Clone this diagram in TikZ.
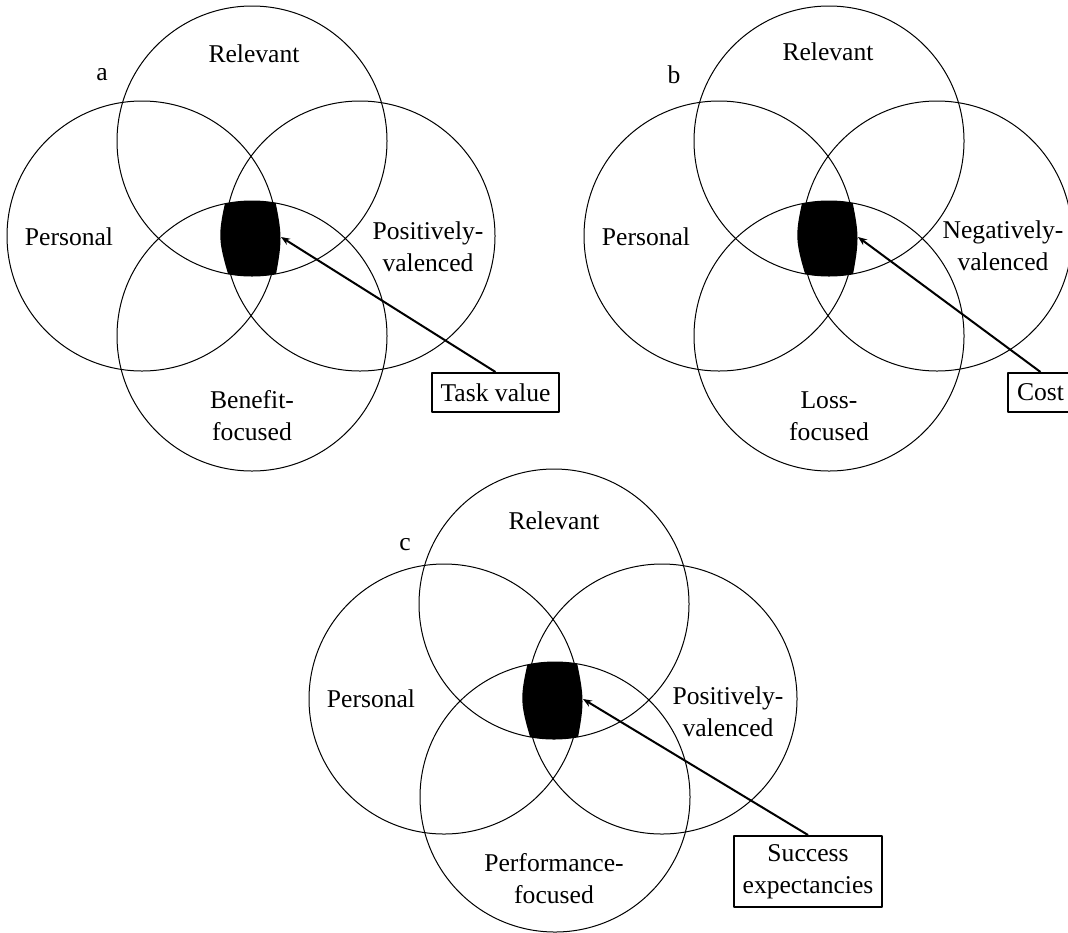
\documentclass[tikz,border=0pt]{standalone}
\usepackage{fontspec}
\setmainfont{Liberation Serif}
\usepackage{tikz}
\usetikzlibrary{arrows.meta}

\begin{document}
\begin{tikzpicture}[x=0.5pt, y=-0.5pt, line join=round,
  font=\fontsize{12.8}{16}\selectfont,
  setcirc/.style={draw, line width=0.5pt},
  lbl/.style={inner sep=0pt, align=center},
  valbox/.style={draw, line width=1pt, inner xsep=4.5pt, inner ysep=0pt, minimum height=19.5pt, align=center},
  pointer/.style={line width=1pt, -{Stealth[length=4.5pt, width=3.5pt]}}]

  \useasboundingbox (0,0) rectangle (1068,932);

  % ---------- panel a ----------
  \draw[setcirc] (252,141) circle (135); % relevant
  \draw[setcirc] (142,236) circle (135); % personal
  \draw[setcirc] (360,236) circle (135); % positively-valenced
  \draw[setcirc] (252,336) circle (135); % benefit-focused

  % Shade the common core
  \begin{scope}
    \clip (252,141) circle (135);
    \clip (252,336) circle (135);
    \fill[black] (228,190) .. controls (217,238) .. (233,290) -- (273,290) .. controls (283,238) .. (273,190) -- cycle;
  \end{scope}
  \coordinate (tvcore) at (281,237);

  \node[lbl] (alab) at (102,75) {a};
  \node[lbl] (arel) at (254,54) {Relevant};
  \node[lbl] (aper) at (69,237) {Personal};
  \node[lbl] (apos) at (428,247) {Positively-\\valenced};
  \node[lbl] (aben) at (252,416) {Benefit-\\focused};

  \node[valbox] (taskval) at (495.5,392.5) {Task value};
  \draw[pointer] (taskval.north) -- (tvcore);

  % ---------- panel b ----------
  \draw[setcirc] (829,141) circle (135); % relevant
  \draw[setcirc] (719,236) circle (135); % personal
  \draw[setcirc] (937,236) circle (135); % negatively-valenced
  \draw[setcirc] (829,336) circle (135); % loss-focused

  % Shade the common core
  \begin{scope}[shift={(577,0)}]
    \clip (252,141) circle (135);
    \clip (252,336) circle (135);
    \fill[black] (228,190) .. controls (217,238) .. (233,290) -- (273,290) .. controls (283,238) .. (273,190) -- cycle;
  \end{scope}
  \coordinate (costcore) at (858,237);

  \node[lbl] (blab) at (674,75) {b};
  \node[lbl] (brel) at (828,52) {Relevant};
  \node[lbl] (bper) at (646,237) {Personal};
  \node[lbl] (bneg) at (1003,246) {Negatively-\\valenced};
  \node[lbl] (blos) at (829,416) {Loss-\\focused};

  \node[valbox] (cost) at (1040.5,392.5) {Cost};
  \draw[pointer] (cost.north) -- (costcore);

  % ---------- panel c ----------
  \draw[setcirc] (554,604) circle (135); % relevant
  \draw[setcirc] (444,699) circle (135); % personal
  \draw[setcirc] (662,699) circle (135); % positively-valenced
  \draw[setcirc] (555,797) circle (135); % performance-focused

  % Shade the common core
  \begin{scope}[shift={(302,463)}]
    \clip (252,141) circle (135);
    \clip (253,334) circle (135);
    \fill[black] (228,190) .. controls (217,238) .. (233,290) -- (273,290) .. controls (283,238) .. (273,190) -- cycle;
  \end{scope}
  \coordinate (succore) at (583,699);

  \node[lbl] (clab) at (405,545) {c};
  \node[lbl] (crel) at (554,521) {Relevant};
  \node[lbl] (cper) at (371,699) {Personal};
  \node[lbl] (cpos) at (728,712) {Positively-\\valenced};
  \node[lbl] (cperf) at (554,879) {Performance-\\focused};

  \node[valbox, minimum height=35.5pt] (success) at (808,871.5) {Success\\expectancies};
  \draw[pointer] (success.north) -- (succore);

\end{tikzpicture}
\end{document}
